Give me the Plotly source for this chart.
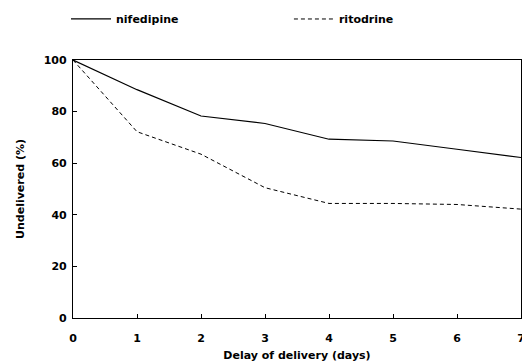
import plotly.graph_objects as go

days = [0, 1, 2, 3, 4, 5, 6, 7]
nifedipine = [100, 88.5, 78.3, 75.4, 69.3, 68.6, 65.4, 62.2]
ritodrine = [100, 72.2, 63.5, 50.5, 44.4, 44.4, 44.0, 42.2]

font_family = "DejaVu Sans, Liberation Sans, Arial, sans-serif"

fig = go.Figure()
fig.add_trace(go.Scatter(x=days, y=nifedipine, mode="lines", name="nifedipine",
                         legend="legend",
                         line=dict(color="black", width=1.2, dash="solid")))
fig.add_trace(go.Scatter(x=days, y=ritodrine, mode="lines", name="ritodrine",
                         legend="legend2",
                         line=dict(color="black", width=1, dash="4px,3px")))

legend_common = dict(orientation="h", yref="container", y=0.969, xanchor="left", yanchor="middle",
                     itemwidth=40,
                     font=dict(size=11, family=font_family, weight="bold"),
                     bgcolor="rgba(0,0,0,0)")

# page body has an 8px default margin, so the figure is 8px smaller than the window
fig.update_layout(
    width=522, height=354,
    margin=dict(l=65, r=9, t=52, b=44, autoexpand=False),
    paper_bgcolor="white", plot_bgcolor="white",
    font=dict(family=font_family, size=11, color="black", weight="bold"),
    showlegend=True,
    legend=dict(x=-0.0156, **legend_common),
    legend2=dict(x=0.482, **legend_common),
    xaxis=dict(range=[0, 7], tickvals=days, ticks="inside", ticklen=4, tickcolor="black",
               showline=True, linecolor="black", linewidth=1.2, mirror=True, automargin=False,
               showgrid=False, zeroline=False, ticklabelstandoff=10,
               title=dict(text="Delay of delivery (days)", standoff=8,
                          font=dict(size=11, weight="bold"))),
    yaxis=dict(range=[0, 100], tickvals=[0, 20, 40, 60, 80, 100], ticks="inside", ticklen=4,
               tickcolor="black", showline=True, linecolor="black", linewidth=1.2, mirror=True,
               automargin=False,
               showgrid=False, zeroline=False, ticklabelstandoff=3,
               title=dict(text="Undelivered (%)", standoff=16,
                          font=dict(size=11, weight="bold"))),
)

fig.write_html("out.html")
